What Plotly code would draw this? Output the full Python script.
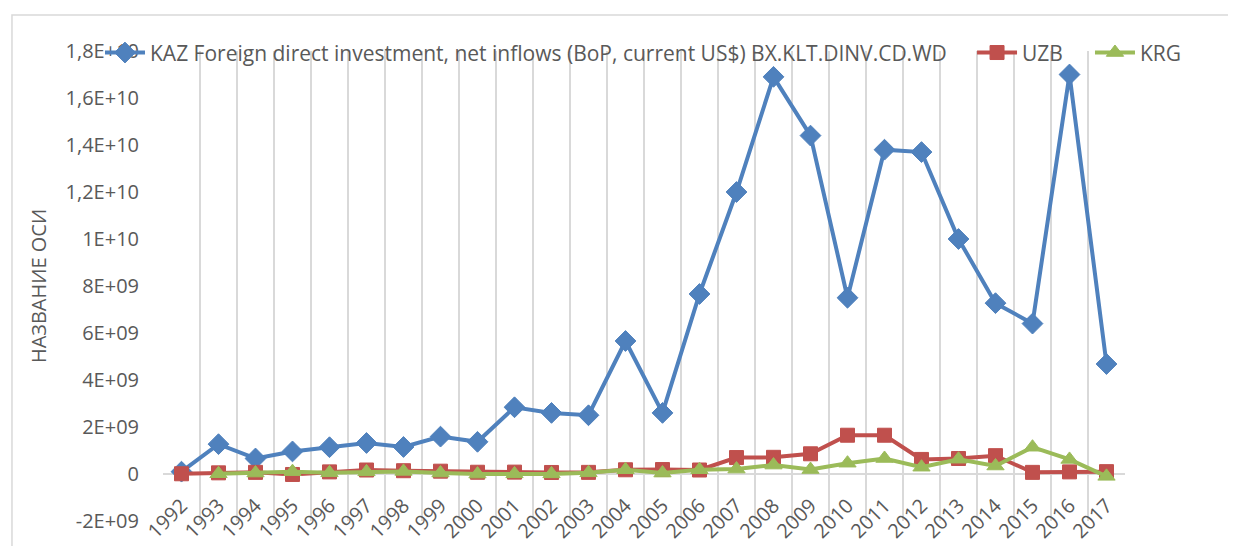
import plotly.graph_objects as go

years = [str(y) for y in range(1992, 2018)]
kaz = [0.10e9, 1.27e9, 0.66e9, 0.96e9, 1.14e9, 1.32e9, 1.15e9, 1.59e9, 1.37e9, 2.84e9,
       2.60e9, 2.50e9, 5.66e9, 2.60e9, 7.66e9, 12.0e9, 16.9e9, 14.4e9, 7.50e9, 13.8e9,
       13.7e9, 10.0e9, 7.27e9, 6.40e9, 17.0e9, 4.68e9]
uzb = [0.01e9, 0.05e9, 0.07e9, -0.02e9, 0.09e9, 0.17e9, 0.14e9, 0.12e9, 0.075e9, 0.08e9,
       0.065e9, 0.07e9, 0.18e9, 0.19e9, 0.17e9, 0.70e9, 0.71e9, 0.86e9, 1.65e9, 1.65e9,
       0.62e9, 0.66e9, 0.78e9, 0.07e9, 0.09e9, 0.10e9]
krg = [None, 0.01e9, 0.04e9, 0.10e9, 0.05e9, 0.09e9, 0.11e9, 0.04e9, -0.005e9, 0.005e9,
       0.005e9, 0.05e9, 0.18e9, 0.04e9, 0.18e9, 0.21e9, 0.38e9, 0.19e9, 0.46e9, 0.66e9,
       0.29e9, 0.63e9, 0.34e9, 1.14e9, 0.62e9, -0.10e9]

names = ["KAZ Foreign direct investment, net inflows (BoP, current US$) BX.KLT.DINV.CD.WD", "UZB", "KRG"]
colors = ["#4F81BD", "#C0504D", "#9BBB59"]
symbols = ["diamond", "square", "triangle-up"]
sizes = [16, 14, 15]
legends = ["legend", "legend2", "legend3"]

ytick_vals = [-2e9, 0, 2e9, 4e9, 6e9, 8e9, 1e10, 1.2e10, 1.4e10, 1.6e10, 1.8e10]
ytick_text = ["-2E+09", "0", "2E+09", "4E+09", "6E+09", "8E+09", "1E+10", "1,2E+10", "1,4E+10", "1,6E+10", "1,8E+10"]

fig = go.Figure()
for name, vals, c, s, sz, lg in zip(names, [kaz, uzb, krg], colors, symbols, sizes, legends):
    fig.add_trace(go.Scatter(
        x=years, y=vals, name=name, mode="lines+markers", legend=lg,
        line=dict(color=c, width=4),
        marker=dict(symbol=s, size=sz, color=c, line=dict(color=c, width=1)),
        connectgaps=False,
    ))

font_family = "Open Sans"
txt = "#595959"
grid = "#D9D9D9"
fs = 20
lfs = 21

def leg(x):
    return dict(orientation="h", x=x, xanchor="left", y=0.996, yanchor="middle",
                bgcolor="rgba(0,0,0,0)", font=dict(size=lfs, color=txt, family=font_family),
                itemwidth=40)

fig.update_layout(
    width=1236, height=546,
    margin=dict(l=155, r=119, t=43, b=33, autoexpand=False),
    plot_bgcolor="white", paper_bgcolor="white",
    font=dict(family=font_family, size=fs, color=txt),
    showlegend=True,
    legend=leg(-0.0655),
    legend2=leg(0.841),
    legend3=leg(0.9636),
    xaxis=dict(type="category", range=[-0.5, len(years) - 0.5], tickangle=-45,
               tickson="boundaries", showgrid=True,
               gridcolor=grid, gridwidth=1.5, showline=False, ticks="",
               anchor="free", position=0.1, tickfont=dict(size=fs, color=txt),
               ticklabelstandoff=15, zeroline=False),
    yaxis=dict(range=[-2e9, 1.8e10], tickvals=ytick_vals, ticktext=ytick_text,
               showgrid=False, zeroline=True, zerolinecolor=grid, zerolinewidth=1.5,
               showline=False, ticks="", ticklabelstandoff=23,
               title=dict(text="НАЗВАНИЕ ОСИ", font=dict(size=fs, color=txt), standoff=13),
               tickfont=dict(size=fs, color=txt)),
    shapes=[dict(type="rect", xref="paper", yref="paper", x0=-0.157, x1=1.3, y0=-0.2, y1=1.0766,
                 line=dict(color=grid, width=1.5), fillcolor="rgba(0,0,0,0)", layer="below")],
)

fig.write_html("out.html")
